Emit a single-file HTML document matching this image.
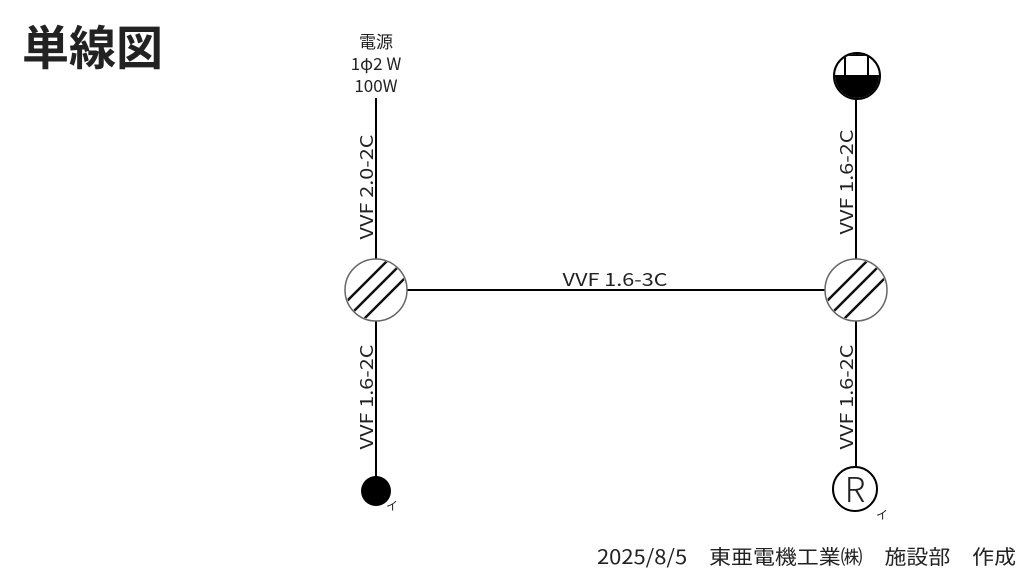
<!DOCTYPE html>
<html><head><meta charset="utf-8"><style>
html,body{margin:0;padding:0;background:#fff;width:1024px;height:571px;overflow:hidden}
text{font-family:"Noto Sans CJK JP","Liberation Sans",sans-serif;fill:#222}
</style></head><body>
<svg width="1024" height="571" viewBox="0 0 1024 571" xmlns="http://www.w3.org/2000/svg">
<defs>
<clipPath id="c1"><circle cx="376" cy="290" r="30"/></clipPath>
<clipPath id="c3"><circle cx="857" cy="76" r="22"/></clipPath>
</defs>
<text x="22" y="65" font-size="47" font-weight="bold" fill="#000">単線図</text>
<text x="376" y="48" font-size="17" text-anchor="middle">電源</text>
<text x="376" y="70" font-size="17" text-anchor="middle">1φ2 W</text>
<text x="376" y="92" font-size="17" text-anchor="middle">100W</text>
<g stroke="#000" stroke-width="2" fill="none">
<line x1="376" y1="98" x2="376" y2="259"/>
<line x1="376" y1="321" x2="376" y2="478"/>
<line x1="407" y1="290" x2="825" y2="290"/>
<line x1="856" y1="98" x2="856" y2="259"/>
<line x1="856" y1="321" x2="856" y2="467"/>
</g>
<g id="jb">
<circle cx="376" cy="290" r="31" fill="#fff" stroke="#666" stroke-width="1.5"/>
<g stroke="#111" stroke-width="2.5" clip-path="url(#c1)">
<line x1="340" y1="308" x2="393" y2="255"/>
<line x1="350" y1="315" x2="403" y2="262"/>
<line x1="360" y1="323" x2="413" y2="270"/>
</g>
</g>
<use href="#jb" x="480" y="0"/>
<text transform="translate(373,187) rotate(-90)" font-size="18" text-anchor="middle" textLength="105" lengthAdjust="spacingAndGlyphs">VVF 2.0-2C</text>
<text transform="translate(373,397) rotate(-90)" font-size="18" text-anchor="middle" textLength="105" lengthAdjust="spacingAndGlyphs">VVF 1.6-2C</text>
<text transform="translate(853,182) rotate(-90)" font-size="18" text-anchor="middle" textLength="105" lengthAdjust="spacingAndGlyphs">VVF 1.6-2C</text>
<text transform="translate(853,397) rotate(-90)" font-size="18" text-anchor="middle" textLength="105" lengthAdjust="spacingAndGlyphs">VVF 1.6-2C</text>
<text x="615" y="286" font-size="18" text-anchor="middle" textLength="105" lengthAdjust="spacingAndGlyphs">VVF 1.6-3C</text>
<circle cx="857" cy="76" r="23" fill="#fff" stroke="#000" stroke-width="2"/>
<g clip-path="url(#c3)">
<rect x="830" y="76" width="60" height="30" fill="#000"/>
<g stroke="#000" stroke-width="2"><line x1="830" y1="55" x2="890" y2="55"/><line x1="845" y1="55" x2="845" y2="76"/><line x1="868" y1="55" x2="868" y2="76"/><line x1="830" y1="76" x2="890" y2="76"/></g>
</g>
<circle cx="376" cy="491" r="15" fill="#000"/>
<text x="386" y="510" font-size="12">イ</text>
<circle cx="855" cy="489" r="22" fill="#fff" stroke="#000" stroke-width="2"/>
<text x="855" y="502" font-size="34" text-anchor="middle" fill="#000" font-weight="300">R</text>
<text x="876" y="519" font-size="12">イ</text>
<text x="597" y="564" font-size="20" textLength="419" lengthAdjust="spacingAndGlyphs">2025/8/5　東亜電機工業㈱　施設部　作成</text>
</svg>
</body></html>
